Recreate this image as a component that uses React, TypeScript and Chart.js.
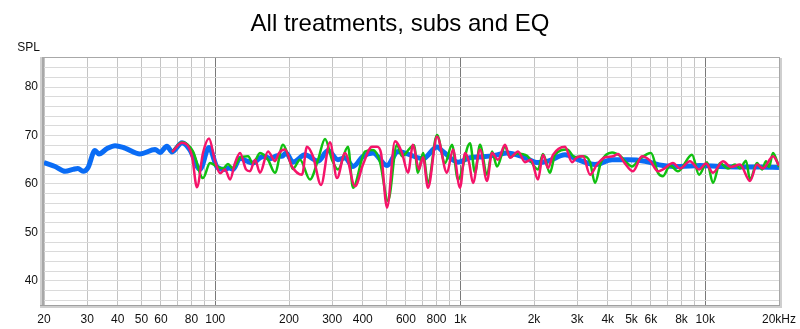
import React, { useEffect, useRef } from "react";
import { Chart, registerables } from "chart.js";

Chart.register(...registerables);

const TITLE = "All treatments, subs and EQ";

// Blue (smoothed) trace
const blueFreq = [20, 22.2, 24.4, 26.3, 27.5, 28.9, 30.2, 32.3, 33.5, 36.2, 39.0, 42.8, 49.3, 56.8, 59.5, 63.5, 66.6, 73.2, 78.9, 86.6, 94.3, 101.7, 108.6, 113.8, 118.2, 126.2, 134.8, 142.6, 152.3, 159.6, 167.3, 178.7, 187.3, 194.5, 207.6, 232.4, 262.8, 288.6, 317, 338.6, 365, 400.9, 440.4, 502.4, 557, 623.6, 704.8, 803.8, 850, 979, 1096, 1238, 1413, 1552, 1804, 2076, 2282, 2677, 3024, 3549, 4164, 4838, 5678, 6722, 7888, 9520, 11488, 13862, 16730, 20000];
const blueSpl = [64.4, 63.6, 62.6, 63.0, 63.2, 62.6, 63.3, 66.9, 66.2, 67.3, 67.9, 67.4, 66.2, 67.1, 66.5, 67.8, 66.6, 68.5, 67.0, 63.0, 67.5, 63.5, 63.0, 63.3, 63.0, 65.3, 64.7, 64.3, 65.4, 65.7, 65.2, 65.8, 65.7, 66.4, 64.5, 66.0, 64.7, 66.9, 65.0, 65.4, 63.6, 65.7, 66.4, 63.8, 66.7, 66.0, 65.2, 67.6, 66.7, 64.5, 65.4, 65.6, 66.0, 66.4, 65.6, 64.4, 64.7, 66.0, 65.0, 64.0, 65.0, 65.0, 64.7, 63.8, 63.6, 63.8, 63.6, 63.5, 63.5, 63.4];

// Red trace
const redFreq = [66.6, 73.2, 80.4, 84.2, 89.1, 94.3, 99.8, 104.6, 109.6, 114.9, 120.4, 126.2, 133.5, 138.6, 145.3, 152.3, 164.2, 175.3, 182.1, 192.6, 205.7, 226, 236.8, 250.6, 270.2, 294, 314, 338.6, 372, 400.9, 436.4, 457.4, 474.8, 502.4, 541.6, 578.4, 612, 641.4, 678.6, 704.8, 738.6, 803.8, 882.8, 934, 997.8, 1046, 1086, 1127, 1204, 1286, 1348, 1426, 1523, 1596, 1721, 1838, 1945, 2076, 2176, 2282, 2391, 2677, 2858, 2996, 3170, 3386, 3616, 3898, 4202, 4406, 4660, 5072, 5518, 5950, 6414, 6722, 7386, 7888, 8664, 9432, 10072, 10756, 11816, 12738, 13862, 15228, 16266, 17208, 18902, 20000];
const redSpl = [66.6, 68.5, 65.7, 59.3, 66.4, 69.4, 64.7, 62.2, 63.0, 60.9, 64.3, 66.4, 63.0, 62.6, 65.0, 62.3, 66.7, 64.7, 66.4, 67.1, 63.6, 61.9, 67.7, 65.7, 59.8, 68.6, 61.2, 66.4, 59.5, 64.0, 67.7, 67.7, 66.4, 55.1, 68.8, 66.4, 62.3, 68.1, 63.0, 65.5, 59.2, 69.8, 62.3, 67.1, 59.2, 66.4, 64.5, 60.2, 67.1, 60.6, 66.4, 65.0, 68.1, 65.4, 66.7, 64.5, 65.0, 60.9, 66.0, 63.3, 66.0, 67.7, 64.5, 65.5, 65.7, 61.9, 64.0, 65.5, 65.7, 66.2, 64.5, 62.6, 65.7, 64.8, 62.6, 63.0, 64.3, 63.2, 64.7, 63.0, 64.2, 62.3, 64.7, 63.5, 64.0, 60.6, 64.0, 63.2, 65.7, 63.8];

// Green trace
const greenFreq = [66.6, 73.2, 81.1, 89.1, 95.2, 101.7, 107.6, 112.7, 118.2, 126.2, 136.1, 142.6, 152.3, 164.2, 175.3, 189, 200, 207.6, 221.8, 243.6, 262.8, 280.6, 299.6, 317, 348.2, 365, 408.6, 440.4, 470.4, 507.2, 551.8, 578.4, 623.6, 647.4, 672.2, 704.8, 738.6, 803.8, 866.4, 925.4, 979, 1096, 1149, 1204, 1286, 1348, 1413, 1523, 1596, 1704, 1873, 2076, 2176, 2324, 2436, 2728, 2940, 3170, 3386, 3549, 3754, 4164, 4488, 4748, 5024, 5416, 6006, 6414, 6722, 7182, 7740, 8828, 9432, 10168, 10756, 11488, 12384, 13226, 13862, 14666, 15228, 16266, 17048, 17700, 18208, 18902, 20000];
const greenSpl = [66.6, 68.6, 66.7, 61.2, 64.3, 63.6, 63.2, 64.1, 63.2, 65.4, 65.7, 64.2, 66.4, 65.0, 62.3, 68.1, 65.3, 63.1, 65.0, 60.9, 65.0, 69.3, 65.0, 63.0, 67.7, 59.2, 66.7, 67.0, 64.5, 56.5, 68.1, 65.7, 67.4, 68.0, 62.3, 66.4, 60.2, 70.1, 64.3, 68.1, 60.9, 68.4, 62.3, 68.1, 61.9, 66.7, 63.6, 67.7, 65.5, 66.3, 65.8, 63.0, 66.2, 62.3, 66.0, 67.1, 65.5, 65.7, 64.5, 60.2, 64.5, 66.5, 65.8, 64.5, 63.6, 65.2, 66.4, 62.3, 61.6, 63.8, 62.6, 66.0, 61.9, 64.5, 60.2, 64.3, 63.2, 64.0, 63.2, 64.8, 60.9, 64.3, 63.0, 64.7, 63.5, 66.4, 63.5];

// Axis ticks
const xGridValues = [20, 30, 40, 50, 60, 70, 80, 90, 100, 200, 300, 400, 500, 600, 700, 800, 900, 1000, 2000, 3000, 4000, 5000, 6000, 7000, 8000, 9000, 10000, 20000];
const xLabelValues = [20, 30, 40, 50, 60, 80, 100, 200, 300, 400, 600, 800, 1000, 2000, 3000, 4000, 5000, 6000, 8000, 10000, 20000];
const xLabelTexts = ["20", "30", "40", "50", "60", "80", "100", "200", "300", "400", "600", "800", "1k", "2k", "3k", "4k", "5k", "6k", "8k", "10k", "20kHz"];
const yGridValues = [36, 38, 40, 42, 44, 46, 48, 50, 52, 54, 56, 58, 60, 62, 64, 66, 68, 70, 72, 74, 76, 78, 80, 82, 84];
const yLabelValues = [40, 50, 60, 70, 80];
const yMin = 35;
const yMax = 86;
const xMin = 20;
const xMax = 20000;

const pts = (f: number[], s: number[]) => f.map((x, i) => ({ x, y: s[i] }));

const FONT = "'Liberation Sans', Arial, sans-serif";

const framePlugin = {
  id: "frame",
  afterDraw(chart: any) {
    const { ctx, chartArea } = chart;
    const { left, top, right, bottom } = chartArea;
    ctx.save();
    ctx.fillStyle = "#d0d0d0";
    ctx.fillRect(left - 4, top - 1, 2, bottom - top + 4);
    ctx.fillStyle = "#a8a8a8";
    ctx.fillRect(left - 2, top - 1, 2, bottom - top + 4);
    ctx.fillStyle = "#a8a8a8";
    ctx.fillRect(left - 2, top - 1, right - left + 3, 1);
    ctx.fillRect(right, top - 1, 1, bottom - top + 2);
    ctx.fillStyle = "#a0a0a0";
    ctx.fillRect(left - 4, bottom, right - left + 5, 1);
    ctx.fillStyle = "#cfcfcf";
    ctx.fillRect(left - 4, bottom + 1, right - left + 7, 2);
    ctx.fillRect(right + 1, top, 2, bottom - top + 3);
    ctx.fillStyle = "#111";
    ctx.font = "12px " + FONT;
    ctx.textAlign = "right";
    ctx.textBaseline = "middle";
    ctx.fillText("SPL", 40, 48);
    ctx.fillStyle = "#000";
    ctx.font = "24px " + FONT;
    ctx.textAlign = "center";
    ctx.textBaseline = "alphabetic";
    ctx.fillText(TITLE, 400, 30.5);
    ctx.restore();
  },
};

export default function App() {
  const ref = useRef<HTMLCanvasElement | null>(null);
  useEffect(() => {
    if (!ref.current) return;
    const chart = new Chart(ref.current, {
      type: "line",
      data: {
        datasets: [
          {
            label: "Red",
            data: pts(redFreq, redSpl),
            borderColor: "#f5146a",
            borderWidth: 2.5,
            pointRadius: 0,
            cubicInterpolationMode: "monotone",
          },
          {
            label: "Green",
            data: pts(greenFreq, greenSpl),
            borderColor: "#10c010",
            borderWidth: 2.5,
            pointRadius: 0,
            cubicInterpolationMode: "monotone",
          },
          {
            label: "Blue",
            data: pts(blueFreq, blueSpl),
            borderColor: "#0a6cf5",
            borderWidth: 5,
            pointRadius: 0,
            cubicInterpolationMode: "monotone",
          },
        ],
      },
      plugins: [framePlugin],
      options: {
        responsive: false,
        animation: false,
        devicePixelRatio: 1,
        layout: { padding: { left: 0, right: 21, top: 58, bottom: 0 } },
        plugins: {
          legend: { display: false },
          tooltip: { enabled: false },
          title: { display: false },
        },
        scales: {
          x: {
            type: "logarithmic",
            min: xMin,
            max: xMax,
            afterBuildTicks: (scale: any) => {
              scale.ticks = xGridValues.map((v) => ({ value: v }));
            },
            afterFit: (scale: any) => {
              scale.height = 24;
              scale.paddingLeft = 0;
              scale.paddingRight = 0;
            },
            border: { display: false },
            grid: {
              drawTicks: false,
              color: (c: any) => {
                const v = c.tick ? c.tick.value : 0;
                return v === 100 || v === 1000 || v === 10000 ? "#7a7a7a" : "#c4c4c4";
              },
              lineWidth: 1,
            },
            ticks: {
              autoSkip: false,
              maxRotation: 0,
              padding: 7,
              color: "#111",
              font: { family: FONT, size: 12 },
              callback: (value: any) => {
                const i = xLabelValues.indexOf(Number(value));
                return i >= 0 ? xLabelTexts[i] : "";
              },
            },
          },
          y: {
            type: "linear",
            min: yMin,
            max: yMax,
            afterBuildTicks: (scale: any) => {
              scale.ticks = yGridValues.map((v) => ({ value: v }));
            },
            afterFit: (scale: any) => {
              scale.width = 44;
              scale.paddingTop = 0;
              scale.paddingBottom = 0;
            },
            border: { display: false },
            grid: {
              drawTicks: false,
              color: "#dadada",
              lineWidth: 1,
            },
            ticks: {
              autoSkip: false,
              padding: 6,
              color: "#111",
              font: { family: FONT, size: 12 },
              callback: (value: any) => (yLabelValues.includes(Number(value)) ? String(value) : ""),
            },
          },
        },
      },
    } as any);
    return () => chart.destroy();
  }, []);
  return (
    <div style={{ position: "absolute", left: 0, top: 0, width: 800, height: 329, background: "#fff" }}>
      <canvas ref={ref} width={800} height={329} style={{ display: "block" }} />
    </div>
  );
}
